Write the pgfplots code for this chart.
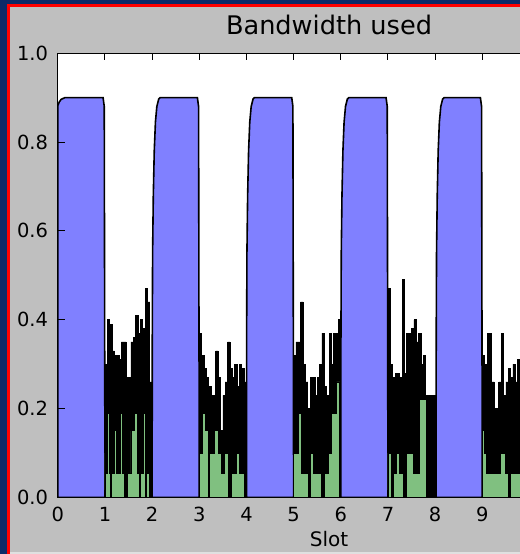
\documentclass[border=0pt]{standalone}
\usepackage{pgfplots}
\pgfplotsset{compat=1.18}
\usepackage{fontspec}
\setmainfont{DejaVu Sans}
\definecolor{navy}{RGB}{12,42,104}
\definecolor{figgray}{RGB}{191,191,191}
\definecolor{blueA}{RGB}{128,128,255}
\definecolor{greenA}{RGB}{128,192,128}
\begin{document}
\begin{tikzpicture}
\useasboundingbox (0,0) rectangle (390pt,415.5pt);
\fill[navy] (0,0) rectangle (390pt,415.5pt);
\fill[red] (5pt,0) rectangle (390pt,412.5pt);
\fill[figgray] (7.5pt,0) rectangle (390pt,410pt);
\fill[white!88!black] (7.5pt,0) rectangle (390pt,1.5pt);
\begin{scope}
\clip (7.5pt,1.5pt) rectangle (390pt,410pt);
\begin{axis}[
  at={(43.35pt,42.4pt)}, anchor=south west,
  scale only axis, width=406.8pt, height=333.2pt,
  xmin=0, xmax=11.5, ymin=0, ymax=1,
  xtick={0,1,2,3,4,5,6,7,8,9,10,11},
  xticklabels={0,1,2,3,4,5,6,7,8,9,,},
  ytick={0,0.2,0.4,0.6,0.8,1.0},
  tick align=inside, major tick length=5.25pt,
  tick style={black, line width=0.75pt},
  axis line style={line width=1pt},
  axis on top,
  axis background/.style={fill=white},
  /pgf/number format/assume math mode=true,
  ticklabel style={font=\fontsize{14.6}{17}\selectfont},
  xticklabel style={anchor=north, inner sep=0pt, yshift=-6.9pt},
  yticklabel style={anchor=east, inner sep=0pt, xshift=-7.1pt,
    /pgf/number format/fixed, /pgf/number format/precision=1,
    /pgf/number format/fixed zerofill},
  title={Bandwidth used},
  title style={font=\fontsize{19.2}{23}\selectfont, at={(0.5,1)}, anchor=base, yshift=8pt},
  xlabel={Slot},
  xlabel style={font=\fontsize{15}{18}\selectfont, at={(axis description cs:0.5,0)}, anchor=base, yshift=-36.9pt},
]
\addplot[draw=black, line width=1.2pt, fill=blueA] coordinates {
(0,0.882)(0.03,0.89)(0.07,0.896)(0.15,0.9)(0.96,0.9)(0.985,0.88)(1.0,0)
(2.0,0)(2.003,0.35)(2.01,0.55)(2.025,0.68)(2.045,0.78)(2.07,0.845)(2.1,0.88)(2.14,0.897)(2.17,0.9)(2.96,0.9)(2.985,0.88)(3.0,0)
(4.0,0)(4.003,0.35)(4.01,0.55)(4.025,0.68)(4.045,0.78)(4.07,0.845)(4.1,0.88)(4.14,0.897)(4.17,0.9)(4.96,0.9)(4.985,0.88)(5.0,0)
(6.0,0)(6.003,0.35)(6.01,0.55)(6.025,0.68)(6.045,0.78)(6.07,0.845)(6.1,0.88)(6.14,0.897)(6.17,0.9)(6.96,0.9)(6.985,0.88)(7.0,0)
(8.02,0)(8.023,0.35)(8.03,0.55)(8.045,0.68)(8.065,0.78)(8.09,0.845)(8.12,0.88)(8.16,0.897)(8.19,0.9)(8.96,0.9)(8.985,0.88)(9.0,0)
} \closedcycle;
\addplot[const plot, fill=black, draw=black, line width=0.5pt] coordinates {
(1.00,0.30)(1.05,0.40)(1.10,0.39)(1.15,0.33)(1.20,0.32)(1.25,0.32)(1.30,0.31)(1.35,0.35)(1.40,0.35)(1.45,0.27)(1.50,0.27)(1.55,0.35)(1.60,0.36)(1.65,0.41)(1.70,0.37)(1.75,0.40)(1.80,0.38)(1.85,0.47)(1.90,0.44)(1.95,0.26)
(2.00,0)
(3.00,0.37)(3.05,0.32)(3.10,0.29)(3.15,0.27)(3.20,0.25)(3.25,0.23)(3.30,0.23)(3.35,0.33)(3.40,0.27)(3.45,0.15)(3.50,0.23)(3.55,0.26)(3.60,0.35)(3.65,0.29)(3.70,0.27)(3.75,0.30)(3.80,0.25)(3.85,0.30)(3.90,0.29)(3.95,0.26)
(4.00,0)
(5.00,0.32)(5.05,0.35)(5.10,0.35)(5.15,0.44)(5.20,0.30)(5.25,0.26)(5.30,0.20)(5.35,0.27)(5.40,0.27)(5.45,0.23)(5.50,0.27)(5.55,0.30)(5.60,0.37)(5.65,0.25)(5.70,0.23)(5.75,0.37)(5.80,0.30)(5.85,0.37)(5.90,0.37)(5.95,0.40)
(6.00,0)
(7.00,0.47)(7.05,0.30)(7.10,0.27)(7.15,0.28)(7.20,0.28)(7.25,0.27)(7.30,0.49)(7.35,0.28)(7.40,0.37)(7.45,0.37)(7.50,0.38)(7.55,0.40)(7.60,0.35)(7.65,0.37)(7.70,0.30)(7.75,0.32)(7.80,0.23)(7.85,0.23)(7.90,0.23)(7.95,0.23)
(8.02,0)
(9.00,0.32)(9.05,0.30)(9.10,0.37)(9.15,0.37)(9.20,0.26)(9.25,0.20)(9.30,0.20)(9.35,0.26)(9.40,0.37)(9.45,0.23)(9.50,0.26)(9.55,0.29)(9.60,0.27)(9.65,0.30)(9.70,0.26)(9.75,0.31)(9.80,0.28)(9.85,0.33)(9.90,0.27)(9.95,0.30)
(10.00,0)
} \closedcycle;
\addplot[const plot, fill=greenA, draw=black, line width=0.6pt] coordinates {
(1.00,0.10)(1.02,0.055)(1.06,0.19)(1.09,0.055)(1.11,0)(1.13,0.055)(1.20,0.15)(1.24,0.055)(1.32,0.19)(1.37,0.055)(1.42,0)(1.48,0.055)(1.55,0.15)(1.62,0.19)(1.68,0.055)(1.72,0)(1.75,0.055)(1.82,0.19)(1.86,0)(1.88,0.055)(1.95,0)
(3.00,0.10)(3.07,0.19)(3.12,0.15)(3.19,0)(3.22,0.10)(3.33,0.15)(3.40,0.10)(3.47,0.055)(3.54,0.10)(3.61,0)(3.68,0.055)(3.79,0.10)(3.86,0.055)(3.96,0)
(5.00,0.10)(5.10,0.19)(5.17,0.055)(5.31,0)(5.35,0.10)(5.42,0.055)(5.59,0)(5.66,0.055)(5.73,0.10)(5.80,0.19)(5.91,0.26)(5.98,0)
(7.00,0.10)(7.08,0)(7.11,0.055)(7.18,0.10)(7.25,0.055)(7.32,0)(7.39,0.10)(7.53,0.055)(7.60,0.055)(7.67,0.22)(7.82,0)
(9.00,0.15)(9.05,0.10)(9.09,0.055)(9.38,0.10)(9.48,0.055)(9.55,0)(9.59,0.055)(9.80,0.10)(9.90,0.055)(10.0,0)
} \closedcycle;
\end{axis}
\end{scope}
\end{tikzpicture}
\end{document}
